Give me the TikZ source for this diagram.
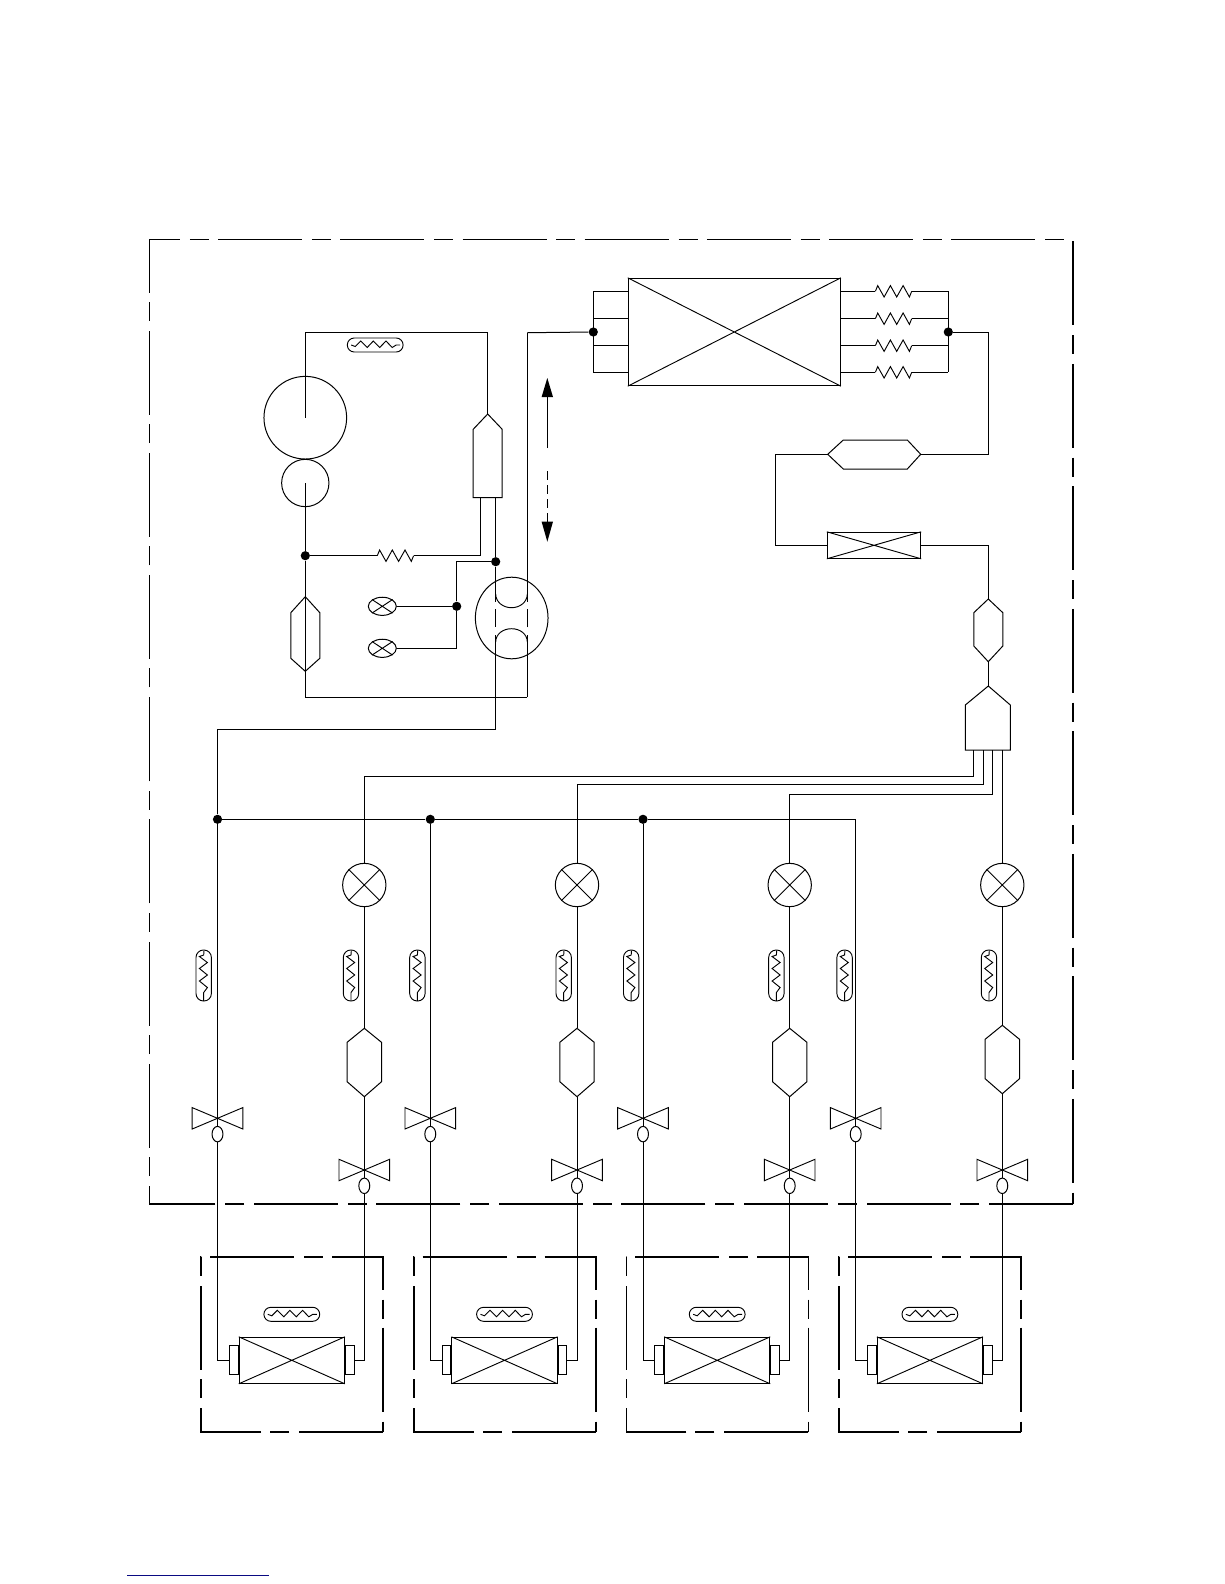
\documentclass[tikz,border=0pt]{standalone}
\usetikzlibrary{shapes.geometric}
\tikzset{
  pipe/.style={line width=0.75pt,line join=miter},
  fine/.style={line width=0.7pt,line join=miter},
  thickframe/.style={line width=1.3pt,dash pattern=on 63pt off 7.35pt on 14.25pt off 7.28pt},
  thinframe/.style={line width=0.85pt,dash pattern=on 63pt off 7.35pt on 14.25pt off 7.03pt},
  unitframe/.style={line width=1.3pt,dash pattern=on 63pt off 7.5pt on 14.25pt off 6.75pt},
  dot/.style={circle,fill=black,inner sep=0pt,minimum size=6.9pt},
  ring/.style={circle,draw,pipe,inner sep=0pt},
  oval/.style={ellipse,draw,pipe,inner sep=0pt},
  crossbox/.style={rectangle,draw,pipe,inner sep=0pt},
}
% vertical hexagon: name cx top sh1 sh2 bottom halfwidth
\newcommand\vhex[7]{%
  \coordinate (#1-n) at (#2,#3);
  \coordinate (#1-s) at (#2,#6);
  \draw[pipe] (#1-n) -- (#2+#7,#4) -- (#2+#7,#5) -- (#1-s) -- (#2-#7,#5) -- (#2-#7,#4) -- cycle;}
% zigzag resistor: name, x, y
\newcommand\zig[3]{%
  \coordinate (#1-a) at (#2,#3);
  \coordinate (#1-b) at (#2+36.3,#3);
  \draw[fine] (#1-a) -- (#2+2.3,#3-5.7) -- (#2+8.7,#3+5.7) -- (#2+15,#3-5.7) -- (#2+21.3,#3+5.7) -- (#2+27.7,#3-5.7) -- (#2+34,#3+5.7) -- (#1-b);}
% horizontal capsule sensor: cx, cy
\newcommand\hsens[2]{%
  \draw[fine,rounded corners=5.2pt] (#1-27.9,#2-7) rectangle (#1+27.9,#2+7);
  \draw[fine] (#1-24,#2) -- (#1-20,#2+1.5) -- (#1-14.5,#2-4) -- (#1-8,#2+2.5) -- (#1-1.9,#2-4) -- (#1+4.5,#2+2.5) -- (#1+10.8,#2-4) -- (#1+17,#2+2.5) -- (#1+21,#2) -- (#1+25,#2);}
% vertical capsule sensor: cx, cy
\newcommand\vsens[2]{%
  \draw[fine,rounded corners=5.6pt] (#1-7.7,#2-25.5) rectangle (#1+7.7,#2+25.5);
  \draw[fine] (#1+0.3,#2-25) -- (#1,#2-20.5) -- (#1-4.3,#2-19) -- (#1+3.7,#2-13) -- (#1-4.3,#2-7) -- (#1+3.7,#2-0.5) -- (#1-4.3,#2+5.5) -- (#1+3.7,#2+12) -- (#1,#2+17) -- (#1,#2+25.5);}
% stop valve: name, cx, cy
\newcommand\stopv[3]{%
  \coordinate (#1) at (#2,#3);
  \draw[fine] (#1) -- (#2-25.3,#3-10.7) -- (#2-25.3,#3+10.7) -- cycle;
  \draw[fine] (#1) -- (#2+25.3,#3-10.7) -- (#2+25.3,#3+10.7) -- cycle;
  \node[oval,minimum width=8.2pt,minimum height=11.6pt] (#1-o) at (#2,#3+15.8) {};}
\begin{document}
\begin{tikzpicture}[x=0.75pt,y=-0.75pt]
\useasboundingbox (0,0) rectangle (1224,1584);

% ---------- outdoor unit frame
\coordinate (fBR) at (1073,1203.7);
\coordinate (fBL) at (149.3,1203.7);
\coordinate (fTL) at (149.3,239.3);
\coordinate (fTR) at (1073,239.3);
\draw[thickframe] (fBR) -- (fBL);
\draw[thinframe,dash phase=49.7pt] (fBL) -- (fTL) -- (fTR);
\draw[thickframe,dash phase=90.36pt] (fTR) -- (fBR);

% ---------- compressor group
\node[ring,minimum size=62pt] (dome) at (305.3,417.7) {};
\node[ring,minimum size=35.5pt] (motor) at (305.3,483) {};
\coordinate (topL) at (305.3,332.7);
\coordinate (topR) at (487.7,332.7);
\hsens{375.2}{345}
\vhex{sep}{487.7}{414}{429.3}{497.7}{497.7}{14.5}
\draw[pipe] (dome.center) -- (topL) -- (topR) -- (sep-n);

\node[dot] (j1) at (305.3,555.7) {};
\zig{rcap}{377.3}{555.7}
\coordinate (sepA) at (480.7,497.7);
\coordinate (sepAb) at (480.7,555.7);
\draw[pipe] (motor.center) -- (j1);
\draw[pipe] (j1) -- (rcap-a);
\draw[pipe] (rcap-b) -- (sepAb) -- (sepA);

\vhex{acc}{305.3}{596.7}{612.7}{658.3}{671.3}{14.5}
\coordinate (botL) at (305.3,697.3);
\coordinate (botR) at (527.3,697.3);
\draw[pipe] (j1) -- (acc-n) -- (acc-s) -- (botL) -- (botR);

% pressure valves
\node[oval,minimum width=21pt,minimum height=13.6pt] (sv1) at (382.3,606.3) {};
\node[oval,minimum width=21pt,minimum height=13.6pt] (sv2) at (382.3,648.3) {};
\draw[fine] (sv1.north west) -- (sv1.south east) (sv1.north east) -- (sv1.south west);
\draw[fine] (sv2.north west) -- (sv2.south east) (sv2.north east) -- (sv2.south west);

% four-way valve
\node[oval,minimum width=54.5pt,minimum height=61.2pt] (rev) at (511.7,618) {};
\coordinate (sepB) at (495.7,497.7);
\node[dot] (j2) at (495.7,561.7) {};
\node[dot] (j3) at (456.7,606.3) {};
\coordinate (j2b) at (456.7,561.7);
\coordinate (j3b) at (456.7,648.3);
\draw[pipe] (sepB) -- (j2);
\draw[pipe] (j2) -- (j2b) -- (j3) -- (j3b) -- (sv2.east);
\draw[pipe] (j3) -- (sv1.east);
\coordinate (a1) at (495.7,601.7);
\coordinate (a2) at (495.7,609.3);
\coordinate (a3) at (495.7,627.3);
\coordinate (a4) at (495.7,635);
\coordinate (b1) at (527.3,601.7);
\coordinate (b2) at (527.3,609.3);
\coordinate (b3) at (527.3,627.3);
\coordinate (b4) at (527.3,635);
\coordinate (gtop) at (495.7,729.3);
\coordinate (gtopL) at (217.5,729.3);
\coordinate (hxL) at (527.3,332.7);
\draw[pipe] (j2) -- (a1) (a2) -- (a3) (a4) -- (gtop) -- (gtopL);
\draw[pipe] (botR) -- (b4) (b3) -- (b2) (b1) -- (hxL);
\draw[fine] (495.7,594) .. controls (495.7,602) and (503,607.7) .. (511.5,607.7) .. controls (520,607.7) and (527.3,602) .. (527.3,594);
\draw[fine] (495.7,642) .. controls (495.7,634) and (503,628.7) .. (511.5,628.7) .. controls (520,628.7) and (527.3,634) .. (527.3,642);

% mode arrows
\coordinate (ar1a) at (547.3,448);
\coordinate (ar1b) at (547.3,397);
\coordinate (ar2a) at (547.3,471);
\coordinate (ar2b) at (547.3,521.7);
\draw[pipe] (ar1a) -- (ar1b);
\draw[pipe,dash pattern=on 7pt off 3.5pt] (ar2a) -- (ar2b);
\fill (547.3,378) -- (553,397) -- (541.6,397) -- cycle;
\fill (547.3,541.7) -- (553,521.7) -- (541.6,521.7) -- cycle;

% ---------- outdoor coil
\node[crossbox,minimum width=159pt,minimum height=80.5pt] (coil) at (734.3,332) {};
\draw[fine] (coil.north west) -- (coil.south east) (coil.north east) -- (coil.south west);
\node[dot] (jL) at (593.3,332) {};
\node[dot] (jR) at (948.3,332) {};
\draw[pipe] (hxL) -- (jL);
\coordinate (mL1) at (593.3,291.3);
\coordinate (mL2) at (593.3,318.7);
\coordinate (mL3) at (593.3,345.7);
\coordinate (mL4) at (593.3,372.3);
\coordinate (mR1) at (948.3,291.3);
\coordinate (mR2) at (948.3,318.7);
\coordinate (mR3) at (948.3,345.7);
\coordinate (mR4) at (948.3,372.3);
\draw[pipe] (mL1) -- (mL4);
\draw[pipe] (mR1) -- (mR4);
\zig{c1}{875.4}{291.3}
\zig{c2}{875.4}{318.7}
\zig{c3}{875.4}{345.7}
\zig{c4}{875.4}{372.3}
\foreach \k in {1,2,3,4}{
  \draw[pipe] (mL\k) -- (mL\k -| coil.west);
  \draw[pipe] (c\k-a -| coil.east) -- (c\k-a);
  \draw[pipe] (c\k-b) -- (mR\k);
}
\coordinate (q1) at (988.3,332);
\coordinate (q2) at (988.3,454.3);
\coordinate (hh-e) at (920.7,454.3);
\coordinate (hh-w) at (827.7,454.3);
\draw[pipe] (hh-w) -- (843.3,440) -- (907.3,440) -- (hh-e) -- (907.3,469) -- (843.3,469) -- cycle;
\draw[pipe] (jR) -- (q1) -- (q2) -- (hh-e);
\coordinate (q3) at (775.3,454.3);
\coordinate (q4) at (775.3,545.3);
\node[crossbox,minimum width=70pt,minimum height=19.5pt] (cap) at (874,545.3) {};
\draw[fine] (cap.north west) -- (cap.south east) (cap.north east) -- (cap.south west);
\draw[pipe] (hh-w) -- (q3) -- (q4) -- (cap.west);
\coordinate (q5) at (988.3,545.3);
\vhex{filt}{988.3}{599}{612.7}{646}{661.7}{14.5}
\draw[pipe] (cap.east) -- (q5) -- (filt-n);

% distributor
\coordinate (dist-n) at (988.3,686);
\draw[pipe] (filt-s) -- (dist-n);
\draw[pipe] (dist-n) -- (1010.3,705) -- (1010.3,750) -- (965.3,750) -- (965.3,705) -- cycle;

% gas header
\coordinate (ghR) at (855.7,819.3);

% ---------- branches
\foreach \i/\g/\l/\off/\xo/\gs in {1/217.5/364.3/0/0/203.7,2/430.3/577/0/212.7/417.4,3/643/789.7/0/425.4/631.2,4/855.7/1002.3/-3/638.1/844.6}{
  % expansion valve
  \node[ring,minimum size=32.5pt] (ev\i) at (\l,885) {};
  \draw[fine] (ev\i.north west) -- (ev\i.south east) (ev\i.north east) -- (ev\i.south west);
  % sensors
  \vsens{\gs}{975.5}
  \vsens{\l-13.3}{975.5}
  % strainer
  \vhex{st\i}{\l}{1028.3+\off}{1042.3+\off}{1081.7+\off}{1096.7+\off}{17.2}
  \draw[pipe] (ev\i.south) -- (st\i-n);
  % service valves
  \stopv{gv\i}{\g}{1118.3}
  \stopv{lv\i}{\l}{1170}
  \draw[pipe] (st\i-s) -- (lv\i);
  \draw[pipe] (lv\i) -- (lv\i-o.north);
  \draw[pipe] (gv\i) -- (gv\i-o.north);
  % indoor unit
  \coordinate (uBR\i) at (\xo+383,1431.7);
  \coordinate (uBL\i) at (\xo+201,1431.7);
  \coordinate (uTL\i) at (\xo+201,1256.7);
  \coordinate (uTR\i) at (\xo+383,1256.7);
  \draw[unitframe] (uBR\i) -- (uBL\i) -- (uTL\i) -- (uTR\i) -- (uBR\i);
  \hsens{\xo+291.8}{1314.3}
  \node[crossbox,minimum width=78.8pt,minimum height=34.5pt] (ic\i) at (\xo+291.8,1360.3) {};
  \draw[fine] (ic\i.north west) -- (ic\i.south east) (ic\i.north east) -- (ic\i.south west);
  \node[crossbox,minimum width=6.6pt,minimum height=21.8pt,anchor=east] (capL\i) at (ic\i.west) {};
  \node[crossbox,minimum width=6.6pt,minimum height=21.8pt,anchor=west] (capR\i) at (ic\i.east) {};
  \coordinate (gb\i) at (\g,1360.3);
  \coordinate (lb\i) at (\l,1360.3);
  \draw[pipe] (gv\i-o.south) -- (gb\i) -- (capL\i.west);
  \draw[pipe] (lv\i-o.south) -- (lb\i) -- (capR\i.east);
}

% distributor outlets to expansion valves
\coordinate (o1) at (973.7,750);
\coordinate (o2) at (983.7,750);
\coordinate (o3) at (992.7,750);
\coordinate (o4) at (1002.3,750);
\coordinate (o1b) at (973.7,776.3);
\coordinate (o2b) at (983.7,784.3);
\coordinate (o3b) at (992.7,794.3);
\coordinate (e1b) at (364.3,776.3);
\coordinate (e2b) at (577,784.3);
\coordinate (e3b) at (789.7,794.3);
\draw[pipe] (o1) -- (o1b) -- (e1b) -- (ev1.north);
\draw[pipe] (o2) -- (o2b) -- (e2b) -- (ev2.north);
\draw[pipe] (o3) -- (o3b) -- (e3b) -- (ev3.north);
\draw[pipe] (o4) -- (ev4.north);

% gas header and risers
\node[dot] (gj1) at (217.5,819.3) {};
\node[dot] (gj2) at (430.3,819.3) {};
\node[dot] (gj3) at (643,819.3) {};
\draw[pipe] (gtopL) -- (gj1) -- (gj2) -- (gj3) -- (ghR);
\draw[pipe] (gj1) -- (gv1);
\draw[pipe] (gj2) -- (gv2);
\draw[pipe] (gj3) -- (gv3);
\draw[pipe] (ghR) -- (gv4);

% page rule
\coordinate (ruleA) at (127,1575.3);
\coordinate (ruleB) at (269,1575.3);
\draw[line width=0.95pt,color={rgb,255:red,10;green,10;blue,130}] (ruleA) -- (ruleB);
\end{tikzpicture}
\end{document}
